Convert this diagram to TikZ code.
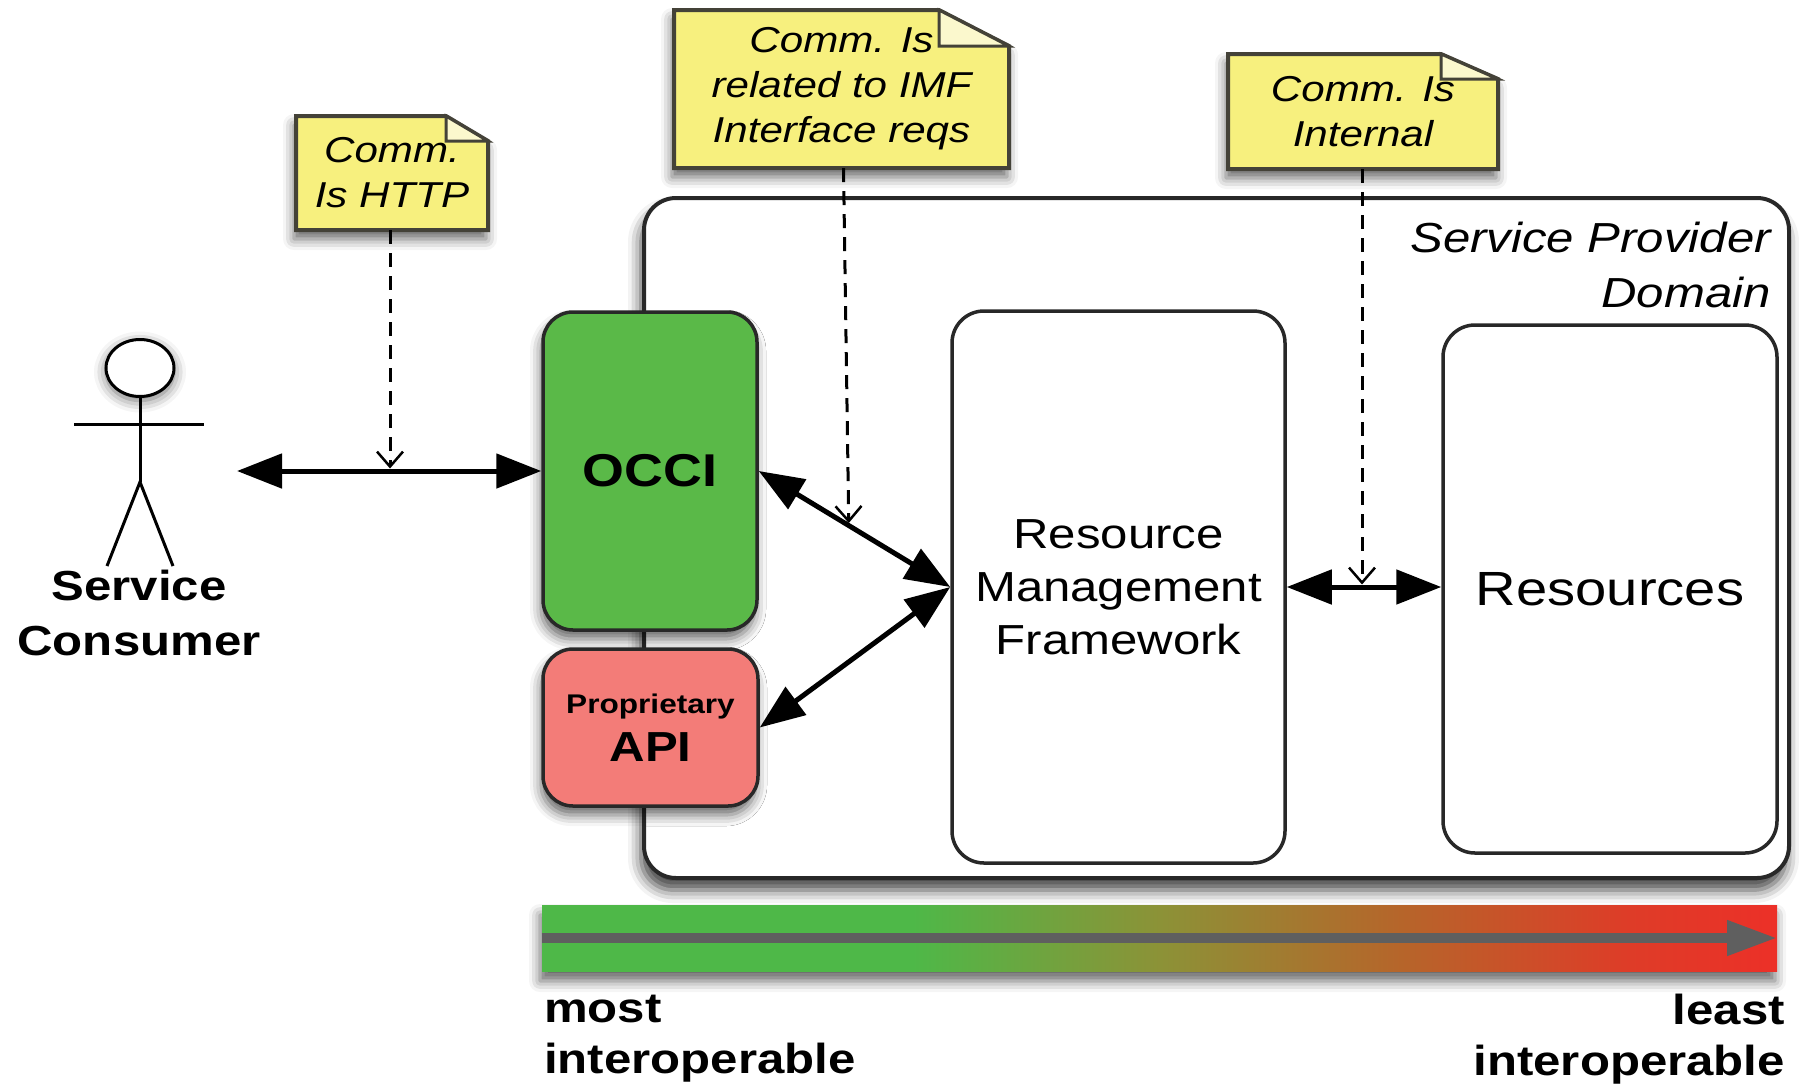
\documentclass[tikz,border=0pt]{standalone}
\usepackage{fontspec}
\setmainfont{Liberation Sans}[FakeStretch=1.17]
\usetikzlibrary{arrows.meta,shapes.geometric,shadows.blur,calc}

\definecolor{noteyel}{RGB}{247,240,126}
\definecolor{notefoldc}{RGB}{251,248,205}
\definecolor{noteline}{RGB}{68,66,56}
\definecolor{occigreen}{RGB}{90,185,72}
\definecolor{apired}{RGB}{243,124,120}
\definecolor{boxline}{RGB}{40,40,40}
\definecolor{gA}{RGB}{78,184,72}
\definecolor{gB}{RGB}{140,146,55}
\definecolor{gC}{RGB}{183,100,42}
\definecolor{gD}{RGB}{222,60,40}
\definecolor{gE}{RGB}{236,48,40}
\definecolor{arrowgray}{RGB}{95,95,95}

\pgfdeclarehorizontalshading{interop}{100bp}{color(0bp)=(gA); color(25bp)=(gA); color(40bp)=(gA); color(50bp)=(gB); color(60bp)=(gC); color(69bp)=(gD); color(75bp)=(gE); color(100bp)=(gE)}

\begin{document}
\begin{tikzpicture}[x=1pt,y=-1pt,
  shadowed/.style={blur shadow={shadow xshift=-2pt,shadow yshift=-9pt,shadow blur radius=11pt,shadow opacity=60}},
  domainbox/.style={draw=boxline,line width=4pt,fill=white,rounded corners=32pt,inner sep=0pt,
    blur shadow={shadow xshift=-3pt,shadow yshift=-12pt,shadow blur radius=13pt,shadow opacity=75}},
  iface/.style={draw=boxline,line width=3.5pt,rounded corners=30pt,shadowed,inner sep=0pt,align=center},
  innerbox/.style={draw=boxline,line width=3.5pt,rounded corners=32pt,fill=white,inner sep=0pt,align=center,font=\fontsize{42}{53}\selectfont},
  notetext/.style={inner sep=0pt,align=center,font=\itshape\fontsize{36}{45}\selectfont},
  notebg/.style={fill=noteyel,draw=noteline,line width=4pt,line join=miter,shadowed},
  notefold/.style={draw=noteline,line width=3pt,fill=notefoldc,line join=miter},
  biarrow/.style={draw=black,line width=5pt,{Triangle[length=45pt,width=34pt,fill=black,color=black]}-{Triangle[length=45pt,width=34pt,fill=black,color=black]}},
  notelink/.style={draw=black,line width=3pt,dash pattern=on 14pt off 9pt,-{Straight Barb[length=15pt,width=26pt,line width=2.5pt]}},
  actorline/.style={line width=3pt,draw=black},
  biglabel/.style={inner sep=0pt,font=\bfseries\fontsize{42}{55}\selectfont}
]
\useasboundingbox (0,0) rectangle (1799,1085);

% provider domain
\node[domainbox,minimum width=1145pt,minimum height=680pt] (domain) at (1216.5,538) {};
\node[anchor=north east,align=right,inner sep=0pt,font=\itshape\fontsize{42}{55}\selectfont] (domainlabel) at (1771,222) {Service Provider\\Domain};

% interfaces
\node[iface,fill=occigreen,minimum width=214pt,minimum height=318pt,font=\bfseries\fontsize{46}{52}\selectfont] (occi) at (650,471) {OCCI};
\node[iface,fill=apired,minimum width=215pt,minimum height=157pt,font=\bfseries\fontsize{42}{48}\selectfont] (api) at (650.5,727.5) {{\fontsize{27}{30}\selectfont Proprietary}\\API};

% inner boxes
\node[innerbox,minimum width=333pt,minimum height=552pt] (rmf) at (1118.5,587) {Resource\\Management\\Framework};
\node[innerbox,minimum width=334pt,minimum height=528pt,font=\fontsize{48}{53}\selectfont] (res) at (1610,589) {Resources};

% actor
\node[ellipse,draw=black,line width=3pt,fill=white,minimum width=68pt,minimum height=57pt,inner sep=0pt,
  blur shadow={shadow xshift=0pt,shadow yshift=-4pt,shadow blur radius=12pt,shadow opacity=60}] (head) at (140,368) {};
\coordinate (hip) at (140,482);
\coordinate (larm) at (74,424);
\coordinate (rarm) at (204,424);
\coordinate (lfoot) at (107,566);
\coordinate (rfoot) at (173,566);
\draw[actorline] (head.south) -- (hip);
\draw[actorline] (larm) -- (rarm);
\draw[actorline] (lfoot) -- (hip) -- (rfoot);
\node[biglabel,anchor=north,align=center] (consumer) at (139,570) {Service\\Consumer};

% notes: paper shapes first, then the text nodes on top
\path[notebg] (296,230) -- (296,116) -- (446,116) -- (488,141) -- (488,230) -- cycle;
\draw[notefold] (446,116) -- (446,141) -- (488,141) -- cycle;
\path[notebg] (674,168) -- (674,10) -- (939,10) -- (1009,46) -- (1009,168) -- cycle;
\draw[notefold] (939,10) -- (939,46) -- (1009,46) -- cycle;
\path[notebg] (1228,169) -- (1228,54) -- (1441,54) -- (1498,79) -- (1498,169) -- cycle;
\draw[notefold] (1441,54) -- (1441,79) -- (1498,79) -- cycle;

\node[notetext,minimum width=192pt,minimum height=114pt] (httpnote) at (392,173) {Comm.\\Is HTTP};
\node[notetext,minimum width=335pt,minimum height=158pt] (imfnote) at (841.5,89) {Comm. Is\\related to IMF\\Interface reqs};
\node[notetext,minimum width=270pt,minimum height=115pt] (intnote) at (1363,111.5) {Comm. Is\\Internal};

% connectors
\coordinate (cport) at (237,471);
\draw[biarrow] (cport) -- (occi.west);
\draw[biarrow] (occi.east) -- (rmf.west);
\draw[biarrow] (api.east) -- (rmf.west);
\draw[biarrow] (rmf.east) -- (rmf.east -| res.west);

\coordinate (httpmid) at (httpnote.south |- cport);
\coordinate (imfmid) at ($(occi.east)!0.47!(rmf.west)$);
\coordinate (intmid) at (intnote.south |- rmf.east);
\draw[notelink] ([xshift=-2pt]httpnote.south) -- ([xshift=-2pt,yshift=2.5pt]httpmid);
\draw[notelink] ([xshift=2pt]imfnote.south) -- ([yshift=2.5pt]imfmid);
\draw[notelink] ([xshift=-1pt]intnote.south) -- ([xshift=-1pt,yshift=2.5pt]intmid);

% interoperability scale
\node[shade,shading=interop,minimum width=1235pt,minimum height=66pt,inner sep=0pt,
  blur shadow={shadow xshift=-2pt,shadow yshift=-10pt,shadow blur radius=11pt,shadow opacity=60}] (bar) at (1159.5,938) {};
\draw[line width=10pt,draw=arrowgray,-{Triangle[length=50pt,width=33pt,fill=arrowgray,color=arrowgray]}] (bar.west) -- (bar.east);
\node[biglabel,anchor=north west,align=left,font=\bfseries\fontsize{42}{51}\selectfont] (most) at (544,995) {most\\interoperable};
\node[biglabel,anchor=north east,align=right,font=\bfseries\fontsize{42}{51}\selectfont] (least) at (1785,994) {least\\interoperable};
\end{tikzpicture}
\end{document}
